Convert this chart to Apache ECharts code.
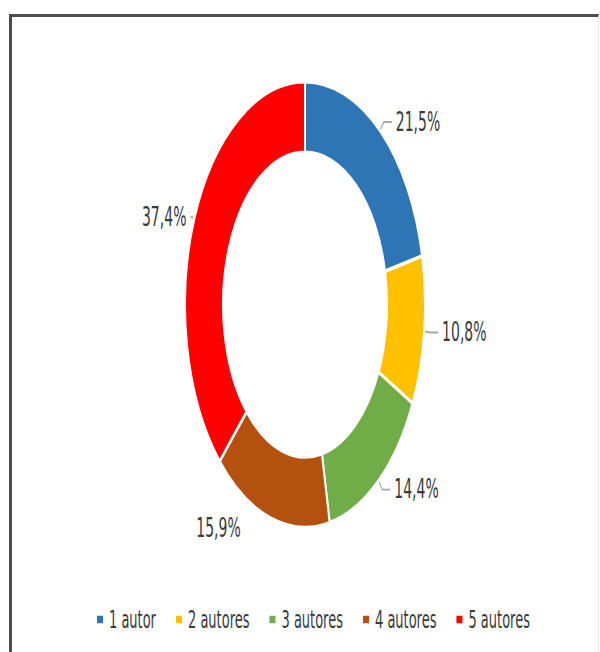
<!DOCTYPE html>
<html>
<head>
<meta charset="utf-8">
<script src="https://cdn.jsdelivr.net/npm/echarts@6/dist/echarts.min.js"></script>
<style>
    body { margin: 0; background: #fff; }
    #wrap { position: relative; width: 600px; height: 652px; overflow: hidden; background: #fff; }
    /* the reference picture is stretched vertically, so the chart is too */
    #chart { position: absolute; left: 0; top: 0; width: 600px; height: 351px; transform: scaleY(1.8575); transform-origin: 0 0; }
    #frame { position: absolute; left: 9px; top: 14px; right: 1px; bottom: -4px; border-top: 3px solid #4d4d4d; border-left: 3px solid #4d4d4d; border-right: 1px solid #e6e6e6; pointer-events: none; }
</style>
</head>
<body>
<div id="wrap">
    <div id="chart"></div>
    <div id="frame"></div>
</div>
<script>
// Data
const categories = ['1 autor', '2 autores', '3 autores', '4 autores', '5 autores'];
const shares = [21.5, 10.8, 14.4, 15.9, 37.4];
const colors = ['#2E75B6', '#FFC000', '#70AD47', '#B5510F', '#FF0000'];

const chart = echarts.init(document.getElementById('chart'), null, { renderer: 'svg' });

const pieData = categories.map((name, i) => {
    const item = { name, value: shares[i], itemStyle: { color: colors[i] } };
    // 4 autores has no leader line, its label sits a bit further out
    if (i === 3) item.labelLine = { show: false, length: 6, length2: 24 };
    if (i === 4) item.labelLine = { length: 2, length2: 2 };
    return item;
});

chart.setOption({
    animation: false,
    textStyle: { fontFamily: 'DejaVu Sans' },
    legend: {
        data: categories,
        top: 322,
        left: 90,
        icon: 'rect',
        itemWidth: 8,
        itemHeight: 6,
        itemGap: 18,
        textStyle: { fontSize: 13, color: '#3a3a3a', fontFamily: 'DejaVu Sans' },
    },
    series: [{
        type: 'pie',
        center: [305, 164],
        radius: [82, 120],
        startAngle: 90,
        clockwise: true,
        avoidLabelOverlap: false,
        itemStyle: { borderColor: '#fff', borderWidth: 2 },
        label: {
            show: true,
            formatter: p => p.value.toFixed(1).replace('.', ',') + '%',
            fontSize: 14,
            color: '#3a3a3a',
            fontFamily: 'DejaVu Sans',
            distanceToLabelLine: 4,
        },
        labelLine: {
            show: true,
            length: 6,
            length2: 8,
            lineStyle: { color: '#a6a6a6', width: 1 },
        },
        data: pieData,
    }],
});
</script>
</body>
</html>
